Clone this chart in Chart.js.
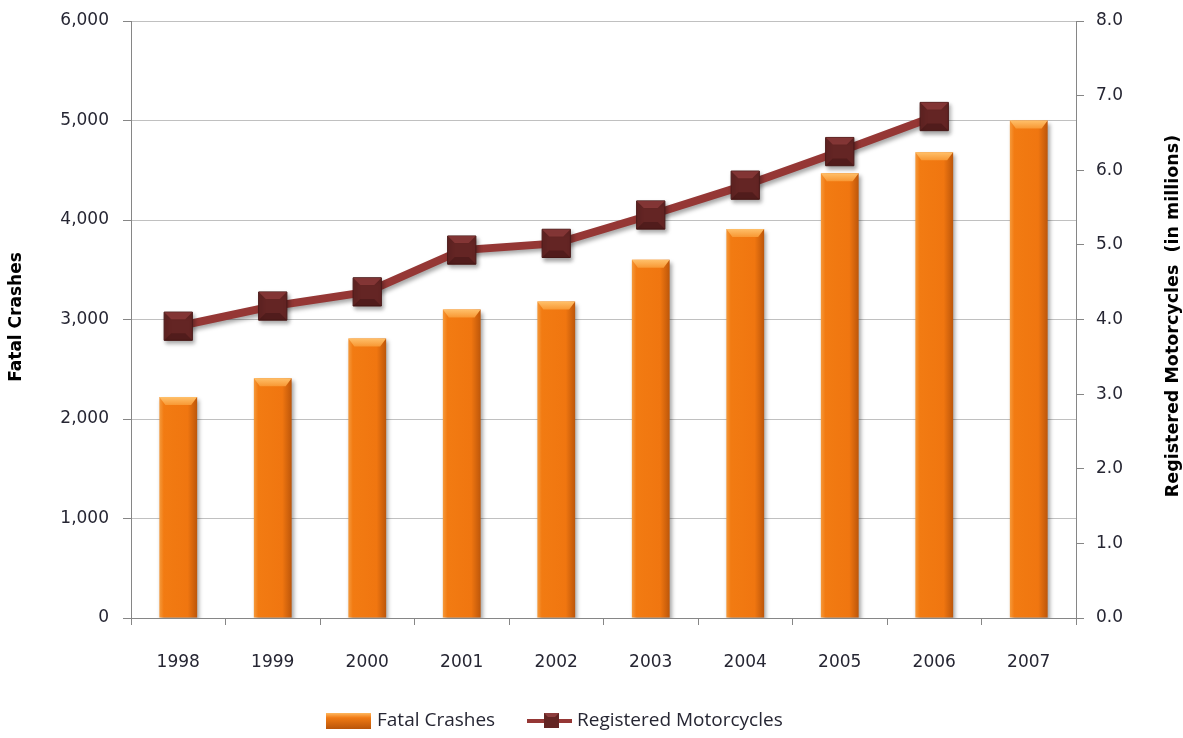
<!DOCTYPE html>
<html><head><meta charset="utf-8">
<script src="https://cdn.jsdelivr.net/npm/chart.js@4/dist/chart.umd.min.js"></script>
<style>html,body{margin:0;padding:0;background:#fff;}#wrap{width:1183px;height:738px;}</style>
</head><body><div id="wrap"><canvas id="c" width="1183" height="738"></canvas></div>
<script>
const years = ['1998','1999','2000','2001','2002','2003','2004','2005','2006','2007'];
const fatalCrashes = [2220, 2410, 2810, 3100, 3180, 3600, 3910, 4470, 4680, 5000];
const registeredMotorcycles = [3.91, 4.18, 4.37, 4.93, 5.02, 5.40, 5.80, 6.25, 6.72, null];
const leftTicks = [0, 1000, 2000, 3000, 4000, 5000, 6000];
const rightTicks = [0, 1, 2, 3, 4, 5, 6, 7, 8];
const leftTitle = 'Fatal Crashes';
const rightTitle = 'Registered Motorcycles  (in millions)';

const tickFont = {family: 'DejaVu Sans', size: 17};
const textColor = '#262633';

function barGradient(ctx){
  const chart = ctx.chart;
  const xs = chart.scales.x;
  if (!xs || ctx.dataIndex === undefined) return '#EF7613';
  const cx = xs.getPixelForValue(ctx.dataIndex);
  if (!isFinite(cx)) return '#EF7613';
  const half = 19;
  const g = chart.ctx.createLinearGradient(cx - half, 0, cx + half, 0);
  g.addColorStop(0, '#F59A3C');
  g.addColorStop(0.12, '#F27B12');
  g.addColorStop(0.75, '#F07610');
  g.addColorStop(1, '#BC560A');
  return g;
}

const decorPlugin = {
  id: 'decor',
  beforeDatasetDraw(chart, args){
    const ctx = chart.ctx;
    ctx.save();
    ctx.shadowColor = 'rgba(0,0,0,0.35)';
    ctx.shadowOffsetX = 2;
    ctx.shadowOffsetY = 3;
    ctx.shadowBlur = 4;
  },
  afterDatasetDraw(chart, args){
    const ctx = chart.ctx;
    ctx.restore();
    if (args.index === 0) {
      const meta = chart.getDatasetMeta(0);
      ctx.save();
      meta.data.forEach(el => {
        const l = el.x - el.width/2, r = el.x + el.width/2, t = el.y;
        const g = ctx.createLinearGradient(0, t, 0, t + 9);
        g.addColorStop(0, '#FFC06A');
        g.addColorStop(1, '#F7932D');
        ctx.fillStyle = g;
        ctx.beginPath();
        ctx.moveTo(l, t); ctx.lineTo(r, t); ctx.lineTo(r - 6, t + 8); ctx.lineTo(l + 6, t + 8); ctx.closePath();
        ctx.fill();
      });
      ctx.restore();
    }
    if (args.index === 1) {
      const meta = chart.getDatasetMeta(1);
      ctx.save();
      meta.data.forEach(el => {
        if (el.skip) return;
        const s = 14;
        const x = el.x, y = el.y;
        ctx.fillStyle = 'rgba(160,70,70,0.55)';
        ctx.beginPath();
        ctx.moveTo(x - s, y - s); ctx.lineTo(x + s, y - s); ctx.lineTo(x + s - 7, y - s + 7); ctx.lineTo(x - s + 7, y - s + 7); ctx.closePath();
        ctx.fill();
        ctx.fillStyle = 'rgba(40,10,10,0.3)';
        ctx.beginPath();
        ctx.moveTo(x - s, y + s); ctx.lineTo(x + s, y + s); ctx.lineTo(x + s - 7, y + s - 7); ctx.lineTo(x - s + 7, y + s - 7); ctx.closePath();
        ctx.fill();
      });
      ctx.restore();
    }
  },
  afterDraw(chart){
    const ctx = chart.ctx;
    ctx.save();
    ctx.fillStyle = '#000';
    ctx.font = 'bold 17px "DejaVu Sans", sans-serif';
    ctx.textAlign = 'center';
    ctx.textBaseline = 'middle';
    ctx.translate(17, 317);
    ctx.rotate(-Math.PI/2);
    ctx.fillText(leftTitle, 0, 0);
    ctx.restore();
    ctx.save();
    ctx.fillStyle = '#000';
    ctx.font = 'bold 17.5px "DejaVu Sans", sans-serif';
    ctx.textAlign = 'center';
    ctx.textBaseline = 'middle';
    ctx.translate(1173, 316);
    ctx.rotate(-Math.PI/2);
    ctx.fillText(rightTitle, 0, 0);
    ctx.restore();

    const ly = 721;
    ctx.save();
    const g = ctx.createLinearGradient(0, ly - 8, 0, ly + 8);
    g.addColorStop(0, '#FFB860');
    g.addColorStop(0.3, '#F07A14');
    g.addColorStop(1, '#B9550A');
    ctx.fillStyle = g;
    ctx.fillRect(326, ly - 8, 45, 16);
    ctx.font = '19px "Open Sans", sans-serif';
    ctx.fillStyle = textColor;
    ctx.textBaseline = 'middle';
    ctx.textAlign = 'left';
    ctx.fillText(chart.data.datasets[0].label, 377, ly);
    ctx.strokeStyle = '#953735';
    ctx.lineWidth = 4;
    ctx.beginPath(); ctx.moveTo(527, ly); ctx.lineTo(572, ly); ctx.stroke();
    ctx.fillStyle = '#632523';
    ctx.fillRect(544, ly - 8, 15, 15);
    ctx.fillStyle = 'rgba(170,80,80,0.6)';
    ctx.beginPath(); ctx.moveTo(544, ly-8); ctx.lineTo(559, ly-8); ctx.lineTo(555, ly-4); ctx.lineTo(548, ly-4); ctx.closePath(); ctx.fill();
    ctx.fillStyle = textColor;
    ctx.fillText(chart.data.datasets[1].label, 577, ly);
    ctx.restore();
  }
};

new Chart(document.getElementById('c'), {
  data: {
    labels: years,
    datasets: [
      {
        type: 'bar',
        label: 'Fatal Crashes',
        data: fatalCrashes,
        yAxisID: 'y',
        backgroundColor: barGradient,
        borderWidth: 0,
        categoryPercentage: 1,
        barPercentage: 0.4,
        order: 2
      },
      {
        type: 'line',
        label: 'Registered Motorcycles',
        data: registeredMotorcycles,
        yAxisID: 'y1',
        borderColor: '#953735',
        borderWidth: 8,
        pointStyle: 'rect',
        pointRadius: 20,
        pointBackgroundColor: '#642524',
        pointBorderColor: '#4A1A19',
        pointBorderWidth: 1,
        tension: 0,
        spanGaps: false,
        order: 1
      }
    ]
  },
  options: {
    responsive: false,
    animation: false,
    devicePixelRatio: 1,
    layout: {padding: {left: 0, right: 0, top: 16, bottom: 0}},
    plugins: {legend: {display: false}, tooltip: {enabled: false}},
    scales: {
      x: {
        type: 'category',
        offset: true,
        grid: {offset: true, drawOnChartArea: false, drawTicks: true, tickLength: 7, color: '#868686'},
        border: {color: '#868686'},
        ticks: {font: tickFont, color: textColor, padding: 27},
        afterFit(s){ s.height = 120; s.paddingLeft = 0; s.paddingRight = 0; }
      },
      y: {
        position: 'left',
        min: 0, max: 6000,
        afterBuildTicks(s){ s.ticks = leftTicks.map(v => ({value: v})); },
        ticks: {font: tickFont, color: textColor, padding: 14, callback: v => v.toLocaleString('en-US')},
        grid: {color: '#C0C0C0', tickLength: 8, tickColor: '#868686'},
        border: {color: '#868686'},
        afterFit(s){ s.width = 131; s.paddingTop = 0; s.paddingBottom = 0; }
      },
      y1: {
        position: 'right',
        min: 0, max: 8,
        afterBuildTicks(s){ s.ticks = rightTicks.map(v => ({value: v})); },
        ticks: {font: tickFont, color: textColor, padding: 12, callback: v => Number(v).toFixed(1)},
        grid: {drawOnChartArea: false, tickLength: 8, color: '#868686'},
        border: {color: '#868686'},
        afterFit(s){ s.width = 107; s.paddingTop = 0; s.paddingBottom = 0; }
      }
    }
  },
  plugins: [decorPlugin]
});
</script>
</body></html>
